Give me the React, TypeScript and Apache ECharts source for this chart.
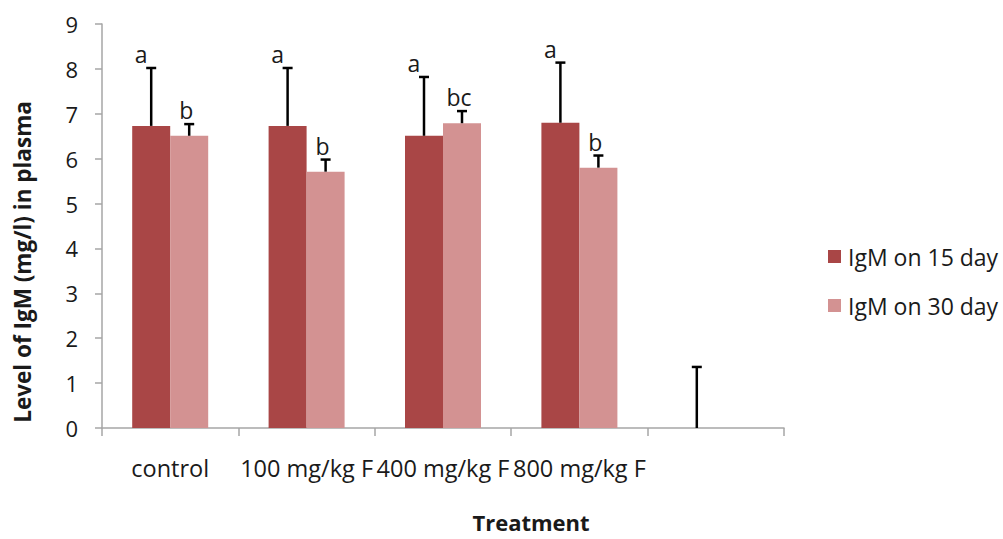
import React, { useEffect, useRef } from "react";
import * as echarts from "echarts";

// Treatment groups (last slot is an empty category on the axis)
const categories = ["control", "100 mg/kg F", "400 mg/kg F", "800 mg/kg F", ""];

// IgM level (mg/l) in plasma, means and upper error (SD)
const igm15 = [6.73, 6.73, 6.51, 6.8, 0];
const err15 = [1.29, 1.29, 1.31, 1.34, 1.36];
const igm30 = [6.51, 5.71, 6.79, 5.8, null];
const err30 = [0.26, 0.27, 0.27, 0.27, null];

// significance letters
const letters15 = ["a", "a", "a", "a", ""];
const letters30 = ["b", "b", "bc", "b", ""];

const yTicks = [0, 9, 1]; // min, max, interval

const FONT = "Open Sans";
const TEXT = "#1a1a1a";
const AXIS = "#a6a6a6";
const DARK = "#a94646";
const LIGHT = "#d39292";
const BAR_W = 38;

function errorSeries(
  name: string,
  values: (number | null)[],
  errs: (number | null)[],
  letters: string[],
  offset: number,
  labelDx: number
) {
  const data = values.map((v, i) => [i, v, errs[i]]);
  return {
    type: "custom",
    name,
    silent: true,
    z: 5,
    data: data.filter((d) => d[1] !== null && d[2] !== null),
    renderItem: (params: any, api: any) => {
      const ci = api.value(0);
      const v = api.value(1);
      const e = api.value(2);
      const base = api.coord([ci, v]);
      const top = api.coord([ci, v + e]);
      const x = base[0] + offset;
      const stroke = { stroke: "#000", lineWidth: 2.5 };
      const children: any[] = [
        { type: "line", shape: { x1: x, y1: base[1], x2: x, y2: top[1] }, style: stroke },
        { type: "line", shape: { x1: x - 5, y1: top[1], x2: x + 5, y2: top[1] }, style: stroke },
      ];
      const letter = letters[ci];
      if (letter) {
        children.push({
          type: "text",
          x: x + labelDx,
          y: top[1] - 14,
          style: {
            text: letter,
            fontFamily: FONT,
            fontSize: 23,
            fill: TEXT,
            align: "center",
            verticalAlign: "middle",
          },
        });
      }
      return { type: "group", children };
    },
  };
}

export default function App() {
  const ref = useRef<HTMLDivElement>(null);

  useEffect(() => {
    if (!ref.current) return;
    const chart = echarts.init(ref.current, undefined, { renderer: "svg" });
    chart.setOption({
      animation: false,
      backgroundColor: "#fff",
      textStyle: { fontFamily: FONT },
      grid: { left: 102, right: 219, top: 24, bottom: 111 },
      legend: {
        orient: "vertical",
        left: 823,
        top: 240,
        itemWidth: 13,
        itemHeight: 13,
        itemGap: 26,
        icon: "rect",
        data: ["IgM on 15 day", "IgM on 30 day"],
        textStyle: { fontFamily: FONT, fontSize: 23, color: TEXT, padding: [0, 0, 0, 2] },
      },
      xAxis: {
        type: "category",
        data: categories,
        boundaryGap: true,
        axisLine: { lineStyle: { color: AXIS, width: 1.5 } },
        axisTick: { show: true, length: 8, lineStyle: { color: AXIS, width: 1.5 } },
        axisLabel: { fontFamily: FONT, fontSize: 23.5, color: TEXT, margin: 28, interval: 0 },
      },
      yAxis: {
        type: "value",
        min: yTicks[0],
        max: yTicks[1],
        interval: yTicks[2],
        axisLine: { show: true, lineStyle: { color: AXIS, width: 1.5 } },
        axisTick: { show: true, length: 7, lineStyle: { color: AXIS, width: 1.5 } },
        splitLine: { show: false },
        axisLabel: { fontFamily: FONT, fontSize: 22, color: TEXT, margin: 24 },
      },
      graphic: [
        {
          type: "text",
          x: 22,
          y: 262,
          rotation: Math.PI / 2,
          style: {
            text: "Level of IgM (mg/l) in plasma",
            fontFamily: FONT,
            fontWeight: "bold",
            fontSize: 22.5,
            fill: TEXT,
            align: "center",
            verticalAlign: "middle",
          },
        },
        {
          type: "text",
          x: 531,
          y: 522,
          style: {
            text: "Treatment",
            fontFamily: FONT,
            fontWeight: "bold",
            fontSize: 22,
            lineHeight: 22,
            fill: TEXT,
            align: "center",
            verticalAlign: "middle",
          },
        },
      ],
      series: [
        {
          name: "IgM on 15 day",
          type: "bar",
          data: igm15,
          barWidth: BAR_W,
          barGap: "0%",
          itemStyle: { color: DARK },
        },
        {
          name: "IgM on 30 day",
          type: "bar",
          data: igm30,
          barWidth: BAR_W,
          barGap: "0%",
          itemStyle: { color: LIGHT },
        },
        errorSeries("err15", igm15, err15, letters15, -BAR_W / 2, -10),
        errorSeries("err30", igm30, err30, letters30, BAR_W / 2, -3),
      ],
    });
    return () => chart.dispose();
  }, []);

  return (
    <div
      ref={ref}
      style={{ position: "fixed", left: 0, top: 0, width: 1003, height: 539 }}
    />
  );
}
